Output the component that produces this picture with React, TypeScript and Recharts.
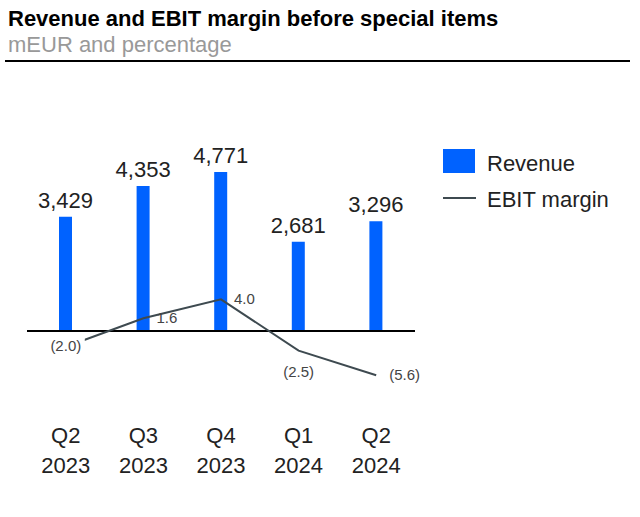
import { ComposedChart, Bar, Line, XAxis, YAxis, ReferenceLine, LabelList } from "recharts";

const QUARTERS = ["Q2", "Q3", "Q4", "Q1", "Q2"];
const YEARS = ["2023", "2023", "2023", "2024", "2024"];
const REVENUE = [3429, 4353, 4771, 2681, 3296];
const EBIT_MARGIN = [-2.0, 1.6, 4.0, -2.5, -5.6];
const SERIES_NAMES = ["Revenue", "EBIT margin"];

// where each margin label sits relative to its point
const MARGIN_LABEL_POS = ["center", "right", "right", "bottom", "right"];

const BLUE = "#0062FF";
const LINE_COLOR = "#3E4A50";
const FONT = '"Liberation Sans", Arial, sans-serif';

const data = QUARTERS.map((q, i) => ({
  label: `${q} ${YEARS[i]}`,
  revenue: REVENUE[i],
  margin: EBIT_MARGIN[i],
}));

const fmtPct = (v: number) => (v < 0 ? `(${Math.abs(v).toFixed(1)})` : v.toFixed(1));

function QuarterTick(props: any) {
  const { x, y, payload } = props;
  const [q, yr] = String(payload.value).split(" ");
  return (
    <text x={x} textAnchor="middle" fontSize={22} fill="#222" fontFamily={FONT}>
      <tspan x={x} y={y + 44}>{q}</tspan>
      <tspan x={x} y={y + 74}>{yr}</tspan>
    </text>
  );
}

function MarginLabel(props: any) {
  const { x, y, value, index } = props;
  const pos = MARGIN_LABEL_POS[index];
  const txt = fmtPct(Number(value));
  const w = txt.length * 7.2;
  if (pos === "center") {
    return (
      <g>
        <rect x={x - w / 2 - 1} y={y - 9} width={w + 2} height={18} fill="#fff" />
        <text x={x} y={y + 4} textAnchor="middle" fontSize={15} fill="#444" fontFamily={FONT}>{txt}</text>
      </g>
    );
  }
  if (pos === "bottom") {
    return (
      <text x={x} y={y + 26} textAnchor="middle" fontSize={15} fill="#444" fontFamily={FONT}>{txt}</text>
    );
  }
  return (
    <text x={x + 13} y={y + 5} textAnchor="start" fontSize={15} fill="#444" fontFamily={FONT}>{txt}</text>
  );
}

export default function App() {
  return (
    <div style={{ position: "absolute", left: 0, top: 0, width: 640, height: 517, background: "#fff", fontFamily: FONT }}>
      <div style={{ position: "absolute", left: 8, top: 8, fontSize: 22, lineHeight: "22px", fontWeight: 700, color: "#000" }}>
        Revenue and EBIT margin before special items
      </div>
      <div style={{ position: "absolute", left: 8, top: 34, fontSize: 22, lineHeight: "22px", color: "#999" }}>
        mEUR and percentage
      </div>
      <div style={{ position: "absolute", left: 5, top: 60, width: 625, height: 2, background: "#000" }} />

      <div style={{ position: "absolute", left: 0, top: 0 }}>
        <ComposedChart width={640} height={517} data={data}
          margin={{ top: 131, right: 225, left: 27, bottom: 66 }}>
          <XAxis dataKey="label" axisLine={false} tickLine={false} height={60} interval={0} tick={<QuarterTick />} />
          <YAxis yAxisId="rev" hide domain={[-1800, 6000]} />
          <YAxis yAxisId="pct" hide orientation="right" domain={[-7.6, 25.3]} />
          <ReferenceLine yAxisId="rev" y={0} stroke="#000" strokeWidth={2} />
          <Bar yAxisId="rev" dataKey="revenue" name={SERIES_NAMES[0]} fill={BLUE} barSize={13} isAnimationActive={false}>
            <LabelList dataKey="revenue" position="top" offset={9} fontSize={22} fill="#222" fontFamily={FONT}
              formatter={(v: any) => Number(v).toLocaleString("en-US")} />
          </Bar>
          <Line yAxisId="pct" dataKey="margin" name={SERIES_NAMES[1]} type="linear" stroke={LINE_COLOR} strokeWidth={2}
            dot={false} isAnimationActive={false}>
            <LabelList dataKey="margin" content={<MarginLabel />} />
          </Line>
        </ComposedChart>
      </div>

      <div style={{ position: "absolute", left: 443, top: 149, width: 32, height: 24, background: BLUE }} />
      <div style={{ position: "absolute", left: 487, top: 153, fontSize: 22, lineHeight: "22px", color: "#222" }}>
        {SERIES_NAMES[0]}
      </div>
      <div style={{ position: "absolute", left: 443, top: 197, width: 33, height: 2, background: LINE_COLOR }} />
      <div style={{ position: "absolute", left: 487, top: 189, fontSize: 22, lineHeight: "22px", color: "#222" }}>
        {SERIES_NAMES[1]}
      </div>
    </div>
  );
}
